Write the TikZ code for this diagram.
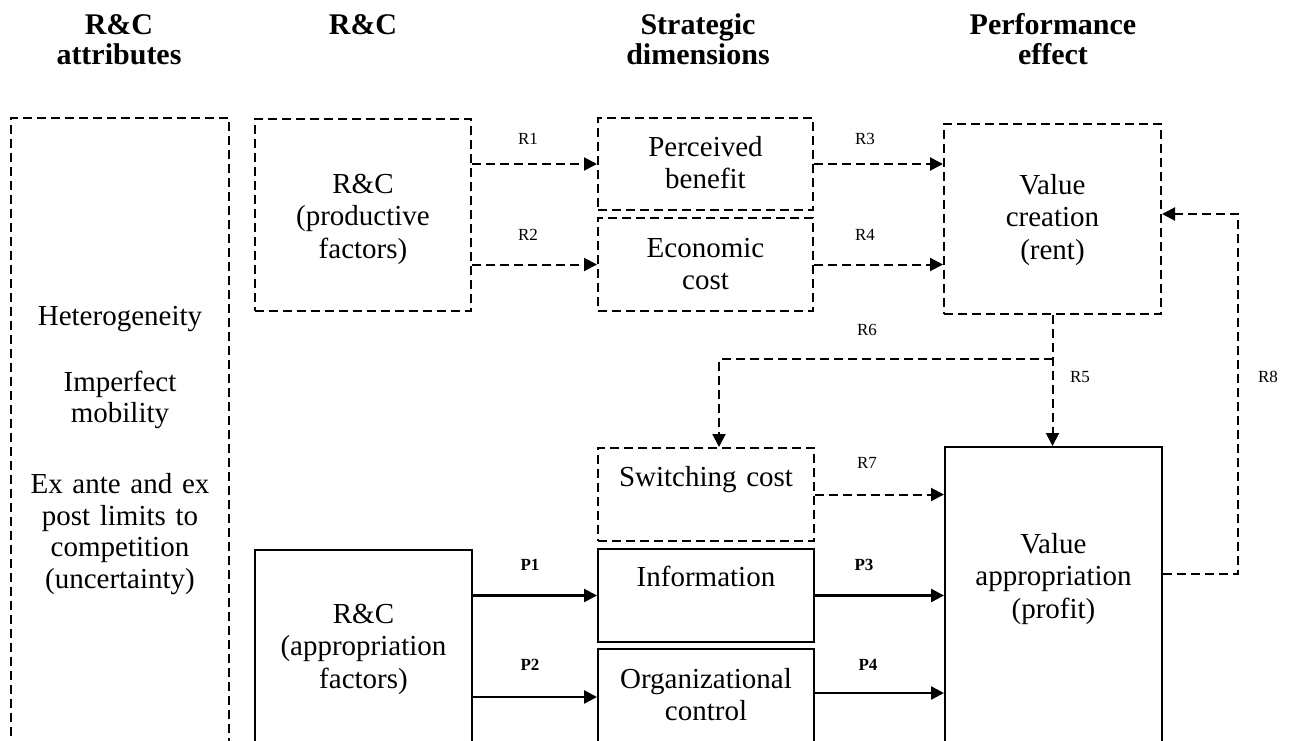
\documentclass[tikz,border=0pt]{standalone}
\usepackage{fontspec}
\setmainfont{Liberation Serif}
\usetikzlibrary{arrows.meta}

\tikzset{
  dbox/.style={draw, line width=2pt, dash pattern=on 9pt off 5pt, inner sep=0pt, align=center, anchor=north west},
  sbox/.style={draw, line width=2pt, inner sep=0pt, align=center, anchor=north west},
  darr/.style={-{Triangle[length=13pt,width=13pt]}, line width=2pt, dash pattern=on 9pt off 5pt},
  sarr/.style={-{Triangle[length=13pt,width=13pt]}, line width=2.5pt},
  head/.style={font=\bfseries\fontsize{30}{30}\selectfont, align=center, anchor=base},
  lbl/.style={font=\fontsize{17}{20}\selectfont},
  plbl/.style={font=\bfseries\fontsize{17}{20}\selectfont},
}

\begin{document}
\begin{tikzpicture}[x=1pt, y=-1pt, font=\fontsize{29}{32.5}\selectfont]
    \useasboundingbox (0,0) rectangle (1291,740);
    \clip (0,0) rectangle (1291,740);

    % column headings (base = last line)
    \node[head] (h1) at (119,64) {R\&C\\attributes};
    \node[head] (h2) at (363,34) {R\&C};
    \node[head] (h3) at (698,64) {Strategic\\dimensions};
    \node[head] (h4) at (1053,64) {Performance\\effect};

    % boxes
    \node[dbox, text width=218pt, text height=207pt, text depth=456pt, font=\fontsize{29}{31.5}\selectfont] (attr) at (10,117)
        {Heterogeneity\\[34.5pt]Imperfect\\mobility\\[39.5pt]Ex ante and ex\\post limits to\\competition\\(uncertainty)};
    \node[dbox, text width=216pt, text height=74pt, text depth=118pt] (prod) at (254,118) {R\&C\\(productive\\factors)};
    \node[dbox, text width=215pt, text height=38pt, text depth=54pt] (perc) at (597,117) {Perceived\\benefit};
    \node[dbox, text width=215pt, text height=39pt, text depth=54pt] (econ) at (597,217) {Economic\\cost};
    \node[dbox, text width=217pt, text height=70pt, text depth=120pt] (vcre) at (943,123) {Value\\creation\\(rent)};
    \node[dbox, text width=216pt, text height=38pt, text depth=55pt] (swc) at (597,447) {Switching cost};
    \node[sbox, text width=216pt, text height=37pt, text depth=56pt] (info) at (597,548) {Information};
    \node[sbox, text width=216pt, text height=39pt, text depth=93pt] (org) at (597,648) {Organizational\\control};
    \node[sbox, text width=217pt, text height=73pt, text depth=158pt] (apprf) at (254,549) {R\&C\\(appropriation\\factors)};
    \node[sbox, text width=217pt, text height=106pt, text depth=228pt] (vapp) at (944,446) {Value\\appropriation\\(profit)};

    % dashed links
    \coordinate (split) at ([yshift=-44pt]vcre.south);
    \coordinate (p2) at ([yshift=18pt]org.west);
    \draw[darr] (prod.east |- perc.west) -- (perc.west);
    \draw[darr] (prod.east |- econ.west) -- (econ.west);
    \draw[darr] (perc.east) -- (perc.east -| vcre.west);
    \draw[darr] (econ.east) -- (econ.east -| vcre.west);
    \draw[darr] (vcre.south) -- (vcre.south |- vapp.north);
    \draw[darr] (split) -| ([xshift=13pt]swc.north);
    \draw[darr] (swc.east) -- (swc.east -| vapp.west);
    \draw[darr] ([yshift=40pt]vapp.east) -- ++(75,0) |- ([yshift=5pt]vcre.east);

    % solid links
    \draw[sarr] (apprf.east |- info.west) -- (info.west);
    \draw[sarr] (apprf.east |- p2) -- (p2);
    \draw[sarr] (info.east) -- (info.east -| vapp.west);
    \draw[sarr] ([yshift=22pt]org.east) -- ([yshift=22pt]org.east -| vapp.west);

    % link labels
    \node[lbl] (r1) at (528,139) {R1};
    \node[lbl] (r2) at (528,235) {R2};
    \node[lbl] (r3) at (865,139) {R3};
    \node[lbl] (r4) at (865,235) {R4};
    \node[lbl] (r6) at (867,330) {R6};
    \node[lbl] (r5) at (1080,377) {R5};
    \node[lbl] (r8) at (1268,377) {R8};
    \node[lbl] (r7) at (867,463) {R7};
    \node[plbl] (l1) at (530,565) {P1};
    \node[plbl] (l3) at (864,565) {P3};
    \node[plbl] (l2) at (530,665) {P2};
    \node[plbl] (l4) at (868,665) {P4};
\end{tikzpicture}
\end{document}
